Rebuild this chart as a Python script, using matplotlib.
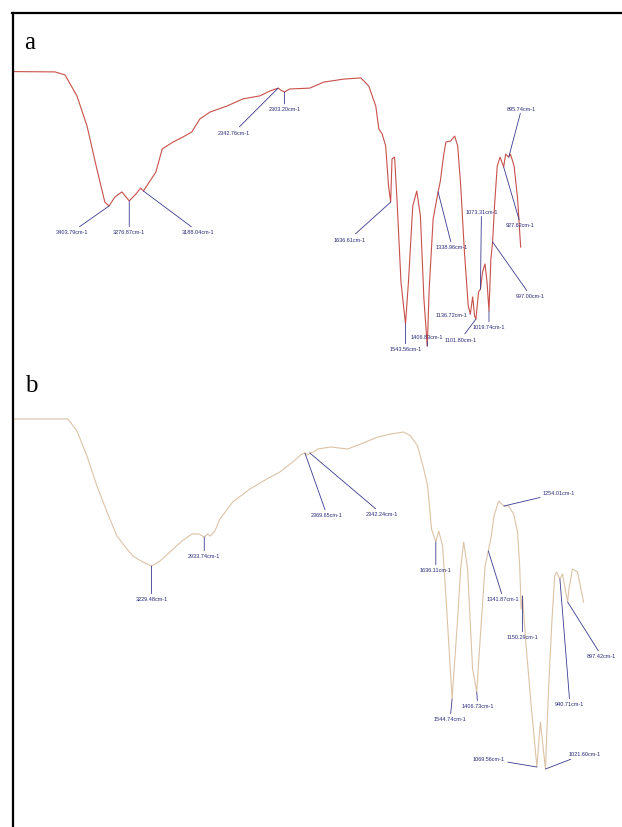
import numpy as np
import matplotlib
matplotlib.use("Agg")
import matplotlib.pyplot as plt
from matplotlib import font_manager
from matplotlib.lines import Line2D

# ---------------- data ----------------
# Spectrum a (wavenumber cm-1, transmittance a.u.)
wn_a = [4000, 3743, 3680, 3605, 3542, 3480, 3430, 3403.79, 3367, 3323, 3276.87, 3235, 3205,
        3188.04, 3110, 3070, 3003, 2940, 2884, 2834, 2771, 2665, 2564, 2458, 2395, 2342.76,
        2325, 2303.2, 2270, 2144, 2056, 1931, 1824, 1774, 1730, 1711, 1690, 1668, 1650,
        1636.61, 1628, 1612, 1597, 1572, 1543.56, 1525, 1498, 1473, 1450, 1428, 1406.83,
        1395, 1370, 1338.96, 1325, 1305, 1290, 1260, 1235, 1216, 1197, 1175, 1150, 1136.72,
        1122, 1110, 1101.8, 1085, 1073.31, 1060, 1045, 1032, 1019.74, 1008, 997, 985, 968,
        950, 927.62, 915, 895.74, 885, 862, 840, 821]
t_a = [95.8, 95.7, 94.7, 87.7, 77.7, 63.3, 52.3, 51, 54, 55.7, 52.7, 55, 57,
       56, 62.3, 70, 72.3, 74, 75.7, 80, 82.3, 84.3, 86.7, 87.7, 89.3, 90.3,
       89.6, 89, 90, 90.3, 92.3, 93.3, 93.7, 91, 84.3, 76.7, 75, 71, 57.7,
       52.3, 66.7, 67.3, 53.3, 25.7, 11.7, 25.7, 51, 56, 47.7, 20, 4.3,
       23.3, 46.7, 55.7, 59.3, 67.7, 72.3, 72.7, 74.3, 71, 57.7, 36.7, 17.7, 15,
       20.7, 14.3, 13.3, 22.3, 23.3, 29, 31.7, 25.7, 16, 33.3, 39, 51, 64.3,
       67.3, 64, 68.3, 67.3, 68.3, 64.3, 53.3, 37.3]

# Spectrum b
wn_b = [4000, 3698, 3647, 3591, 3535, 3479, 3423, 3367, 3334, 3278, 3229.48, 3182, 3126,
        3059, 3003, 2965, 2933.74, 2915, 2900, 2874, 2846, 2774, 2678, 2583, 2510, 2438,
        2387, 2369.65, 2355, 2342.24, 2320, 2298, 2225, 2130, 2057, 1962, 1889, 1816, 1777,
        1738, 1704, 1682, 1660, 1636.11, 1620, 1598, 1581, 1544.74, 1514, 1497, 1480, 1458,
        1430, 1406.73, 1395, 1360, 1341.87, 1325, 1310, 1284, 1254.01, 1228, 1200, 1178,
        1166, 1158, 1150.29, 1133, 1105, 1069.56, 1050, 1021.6, 1005, 987, 970, 959,
        940.71, 926, 918, 897.42, 890, 870, 842, 808]
t_b = [95, 95, 92, 85.75, 78.25, 71.75, 65.75, 62.5, 60.75, 59.25, 58.25, 59.5, 61.75,
       64.5, 66.25, 66.25, 65.5, 66.25, 65.75, 67, 70, 74.25, 77.5, 80, 81.75, 84.25,
       86.25, 86.5, 86.0, 86.5, 86.75, 87.5, 88, 87.5, 88.75, 90.5, 91.25, 91.75, 90.75,
       88.25, 82.5, 78.25, 67.5, 64.25, 67, 63.25, 51.75, 25, 45, 57.5, 64.25, 57.5,
       32.5, 26.75, 35, 58.25, 62, 65.75, 70.75, 74.5, 73.25, 73.25, 71.25, 66.75,
       58.25, 47.5, 50.75, 40, 25, 8, 19.25, 7.5, 26.75, 43.25, 55.75, 56.75,
       55, 56.25, 54.25, 49.25, 52.5, 57.5, 56.75, 49.25]

# Labelled peaks
peaks_a = [3403.79, 3276.87, 3188.04, 2342.76, 2303.20, 1636.61, 1543.56, 1406.83,
           1338.96, 1136.72, 1101.80, 1073.31, 1019.74, 997.00, 927.62, 895.74]
peaks_b = [3229.48, 2933.74, 2369.65, 2342.24, 1636.11, 1544.74, 1406.73, 1341.87,
           1254.01, 1150.29, 1069.56, 1021.60, 940.71, 897.42]

# label text offsets (pixels) relative to the peak point
offs_a = [(-37, -26), (0, -31), (55, -41), (-44, -44), (0, -17), (-41, -37), (0, -25), (0, 10),
          (14, -55), (-19, -1), (-15, -20), (1, 78), (0, -16), (38, -54), (17, -58), (13, 49)]
offs_b = [(0, -33), (0, -19), (22, -62), (72, -61), (0, -28), (-2, -20), (1, -14), (15, -48),
          (55, 13), (0, -41), (-48, 8), (39, 15), (10, -125), (34, -54)]

# ---------------- figure ----------------
W, H = 622, 828
fig = plt.figure(figsize=(W / 100, H / 100), dpi=100)
fig.patch.set_facecolor("white")

names = {f.name for f in font_manager.fontManager.ttflist}
if "Liberation Sans Narrow" in names:
    lab_family, lab_size = "Liberation Sans Narrow", 4.6
else:
    lab_family, lab_size = "Liberation Sans", 4.0
serif = "Liberation Serif" if "Liberation Serif" in names else "DejaVu Serif"

lab_color = "#2a2a7a"
line_color = "#3b3b8f"


def px_axes(x0, x1, ytop, ybot):
    return fig.add_axes([x0 / W, 1 - ybot / H, (x1 - x0) / W, (ybot - ytop) / H])


def draw_panel(ax, wn, t, color, peaks, offs):
    ax.plot(wn, t, color=color, lw=0.8)
    ax.set_xlim(4000, 800)
    ax.set_ylim(0, 100)
    ax.axis("off")
    wn_arr = np.array(wn)[::-1]
    t_arr = np.array(t)[::-1]
    for p, (dx, dy) in zip(peaks, offs):
        yv = np.interp(p, wn_arr, t_arr)
        ax.annotate(f"{p:.2f}cm-1", xy=(p, yv), xytext=(dx, dy), textcoords="offset pixels",
                    ha="center", va="center", fontsize=lab_size, family=lab_family,
                    color=lab_color, annotation_clip=False,
                    arrowprops=dict(arrowstyle="-", color=line_color, lw=0.6,
                                    shrinkA=0, shrinkB=0))


ax_a = px_axes(14, 524, 60, 360)
draw_panel(ax_a, wn_a, t_a, "#c8504a", peaks_a, offs_a)

ax_b = px_axes(14, 585, 400, 800)
draw_panel(ax_b, wn_b, t_b, "#dcc3a6", peaks_b, offs_b)

# panel letters
fig.text(30 / W, 1 - 43 / H, "a", family=serif, fontsize=18, ha="center", va="center")
fig.text(31 / W, 1 - 386 / H, "b", family=serif, fontsize=18, ha="center", va="center")

# frame lines (top and left)
fig.add_artist(Line2D([12 / W, 1.0], [1 - 14 / H, 1 - 14 / H], color="black", lw=1.6,
                      transform=fig.transFigure))
fig.add_artist(Line2D([13 / W, 13 / W], [1 - 14 / H, 0.0], color="black", lw=1.6,
                      transform=fig.transFigure))

fig.savefig("out.png", dpi=100)
